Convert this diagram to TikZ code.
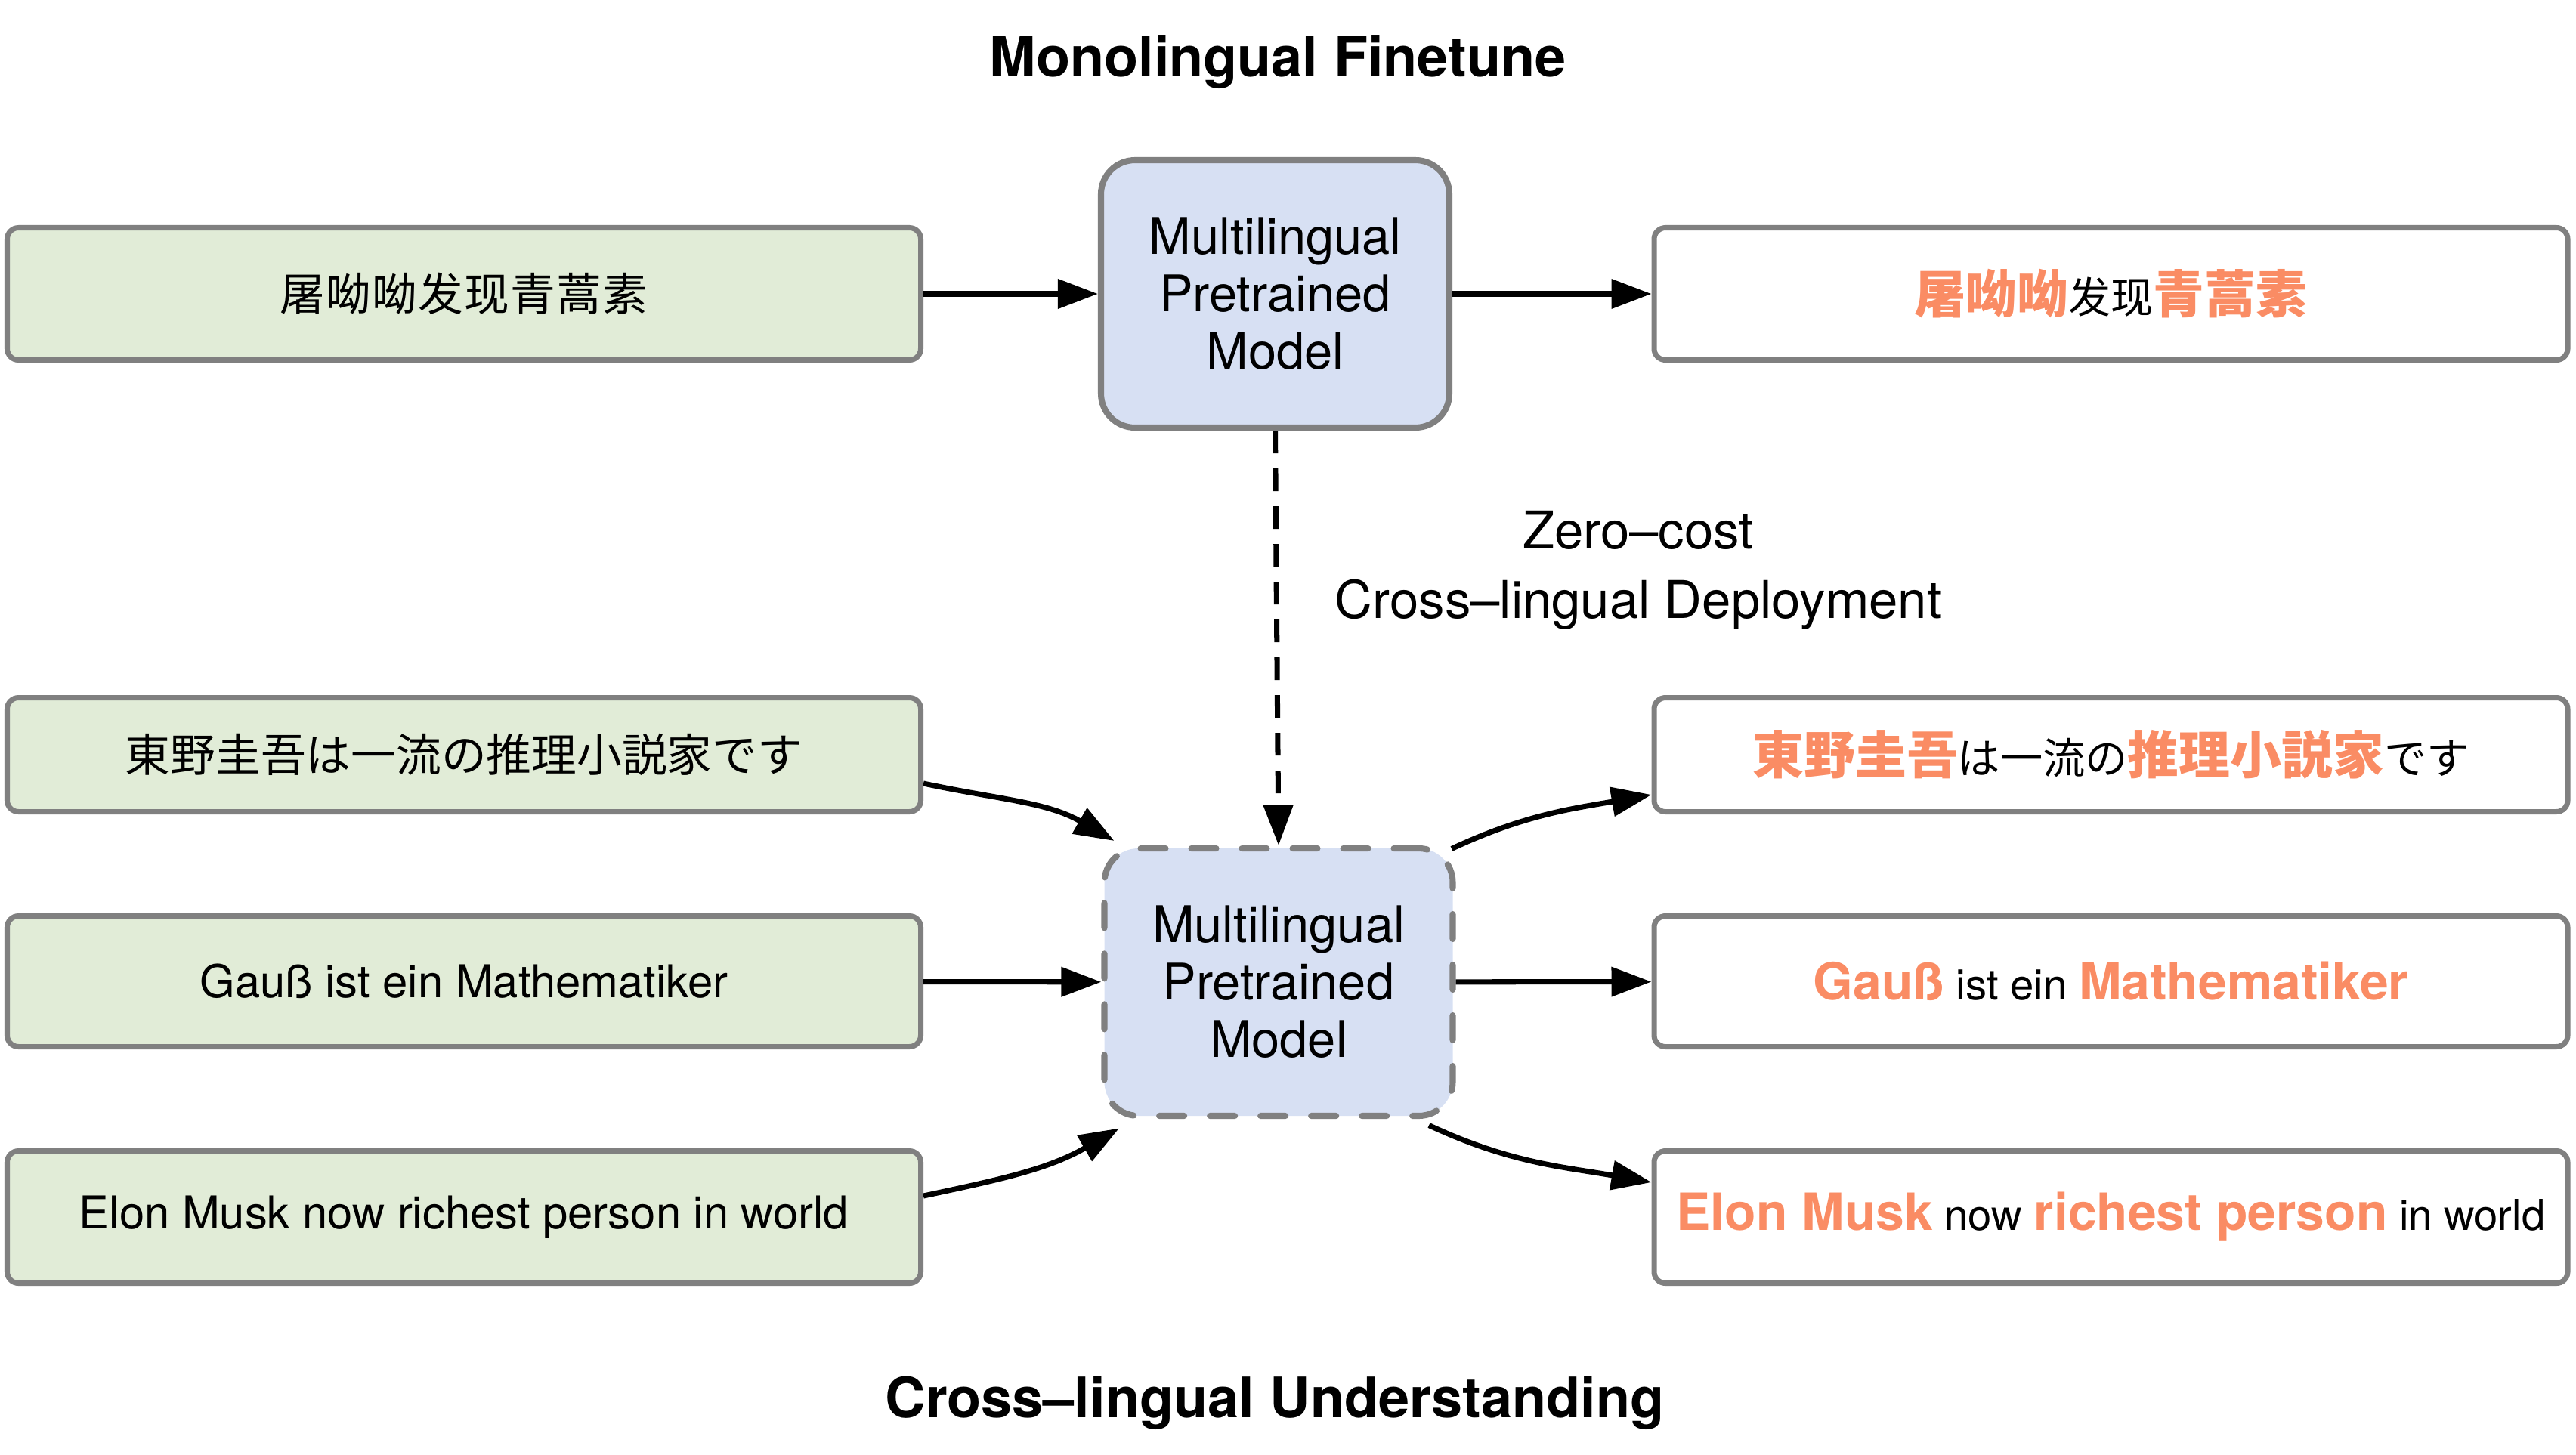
\documentclass[tikz,border=0pt]{standalone}
\usepackage{fontspec}
\setmainfont{TeX Gyre Heros}
\newfontfamily\zhfont{Noto Sans CJK SC}
\newfontfamily\zhwide[LetterSpace=2]{Noto Sans CJK SC}
\newfontfamily\jafont{Noto Sans CJK JP}
\usetikzlibrary{arrows.meta, calc}
\definecolor{boxgray}{RGB}{128,128,128}
\definecolor{ingreen}{RGB}{225,236,215}
\definecolor{modelblue}{RGB}{215,224,243}
\definecolor{hlorange}{RGB}{250,140,100}
\newcommand{\hlword}[1]{{\color{hlorange}\fontsize{19.3}{21}\selectfont\bfseries #1}}

\begin{document}
\begin{tikzpicture}[
  inbox/.style={draw=boxgray, line width=2pt, rounded corners=0.15cm, fill=ingreen,
    minimum width=12.09cm, inner sep=0pt, font=\fontsize{17}{20}\selectfont},
  outbox/.style={inbox, fill=white, font=\fontsize{16}{20}\selectfont},
  model/.style={draw=boxgray, line width=2.3pt, rounded corners=0.45cm, fill=modelblue,
    minimum width=4.61cm, minimum height=3.54cm, align=center,
    font=\fontsize{19}{21.6}\selectfont},
  arr/.style={-{Triangle[length=0.53cm, width=0.38cm]}, line width=2pt},
  title/.style={font=\fontsize{21}{24}\selectfont\bfseries},
]
\useasboundingbox (0,0) rectangle (34.09,-19.25);

% Monolingual finetune (top row)
\node[title] (monotitle) at (16.91,-0.82) {Monolingual Finetune};
\node[model] (mlt) at (16.875,-3.89) {Multilingual\\Pretrained\\Model};
\node[inbox, minimum height=1.75cm] (zhin) at (6.14,-3.89) {\zhwide 屠呦呦发现青蒿素};
\node[outbox, minimum height=1.75cm] (zhout) at (27.935,-3.89)
  {\zhfont\hlword{屠呦呦}发现\hlword{青蒿素}};

\draw[arr] (zhin) -- (mlt);
\draw[arr] (mlt) -- (zhout);

% Zero-cost deployment
\node[align=center, font=\fontsize{19.6}{26}\selectfont] (zerocost) at (21.68,-7.55)
  {Zero--cost\\Cross--lingual Deployment};

% Cross-lingual understanding (bottom rows)
\node[model, dash pattern=on 0.33cm off 0.34cm, line cap=round] (mlb) at (16.92,-13.00)
  {Multilingual\\Pretrained\\Model};
\draw[arr, dash pattern=on 0.3cm off 0.2cm] (mlt.south) -- (mlb.north);

\node[inbox, minimum height=1.51cm] (jain) at (6.14,-9.99) {\jafont 東野圭吾は一流の推理小説家です};
\node[inbox, minimum height=1.73cm] (dein) at (6.14,-12.99) {Gauß ist ein Mathematiker};
\node[inbox, minimum height=1.75cm] (enin) at (6.14,-16.11) {Elon Musk now richest person in world};

\node[outbox, minimum height=1.51cm] (jaout) at (27.935,-9.99)
  {\jafont\hlword{東野圭吾}は一流の\hlword{推理小説家}です};
\node[outbox, minimum height=1.73cm] (deout) at (27.935,-12.99)
  {\hlword{Gauß} ist ein \hlword{Mathematiker}};
\node[outbox, minimum height=1.75cm] (enout) at (27.935,-16.11)
  {\hlword{Elon Musk} now \hlword{richest person} in world};

\draw[arr] ([yshift=-0.38cm]jain.east) to[out=-12, in=150] ([shift={(0.17,0.06)}]mlb.north west);
\draw[arr] (dein) -- (mlb);
\draw[arr] ([yshift=0.28cm]enin.east) to[out=12, in=-150] ([shift={(0.235,-0.125)}]mlb.south west);

\draw[arr] ([shift={(-0.055,-0.045)}]mlb.north east) to[out=25, in=190] ([yshift=-0.53cm]jaout.west);
\draw[arr] (mlb) -- (deout);
\draw[arr] ([shift={(-0.355,-0.085)}]mlb.south east) to[out=-25, in=170] ([yshift=0.46cm]enout.west);

\node[title] (crosstitle) at (16.87,-18.57) {Cross--lingual Understanding};
\end{tikzpicture}
\end{document}
